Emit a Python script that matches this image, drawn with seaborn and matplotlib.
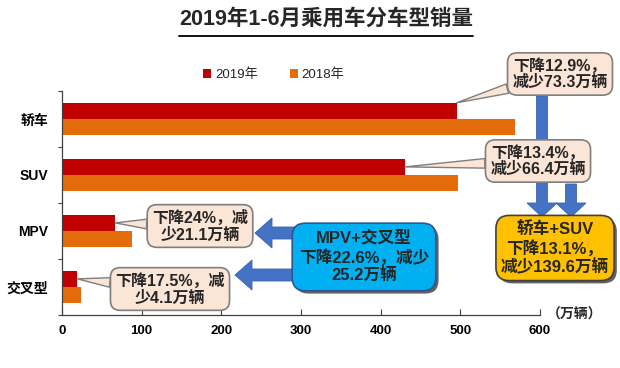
import numpy as np
import pandas as pd
import matplotlib
matplotlib.use('Agg')
import matplotlib.pyplot as plt
import seaborn as sns
from matplotlib.patches import FancyArrow
from matplotlib.lines import Line2D
import matplotlib.patheffects as pe

# ---------------- data ----------------
categories = ['轿车', 'SUV', 'MPV', '交叉型']
years = ['2019年', '2018年']
sales_2019 = [495.6, 430.5, 66.7, 19.4]
sales_2018 = [568.9, 496.9, 87.8, 23.5]
x_ticks = [0, 100, 200, 300, 400, 500, 600]
callout_texts = ['下降12.9%，\n减少73.3万辆',
                 '下降13.4%，\n减少66.4万辆',
                 '下降24%，减\n少21.1万辆',
                 '下降17.5%，减\n少4.1万辆']
summary_mpv = 'MPV+交叉型\n下降22.6%，减少\n25.2万辆'
summary_car = '轿车+SUV\n下降13.1%，\n减少139.6万辆'
title = '2019年1-6月乘用车分车型销量'
unit = '（万辆）'

# ---------------- style ----------------
sns.set_theme(style='white')
plt.rcParams['font.family'] = ['Liberation Sans', 'Noto Sans CJK SC', 'DejaVu Sans']

W, H = 620, 368
fig = plt.figure(figsize=(W / 100, H / 100), dpi=100)
ax = fig.add_axes([62 / W, 1 - 315 / H, (540 - 62) / W, (315 - 91) / H])

df = pd.DataFrame({
    'category': categories * 2,
    'year': [years[0]] * len(categories) + [years[1]] * len(categories),
    'value': sales_2019 + sales_2018,
})
bar_width = 0.58
sns.barplot(data=df, x='value', y='category', hue='year', hue_order=years,
            order=categories, orient='h', width=bar_width, saturation=1,
            linewidth=0, palette={years[0]: '#C00000', years[1]: '#E46C0A'},
            ax=ax)

ax.set_xlim(0, 600)
ax.set_ylim(len(categories) - 0.5, -0.5)
ax.set_xlabel('')
ax.set_ylabel('')
for s in ['top', 'right']:
    ax.spines[s].set_visible(False)
for s in ['left', 'bottom']:
    ax.spines[s].set_color('#404040')
    ax.spines[s].set_linewidth(0.9)
ax.set_xticks(x_ticks)
ax.set_xticklabels([str(t) for t in x_ticks])
ax.tick_params(axis='x', direction='in', length=4, width=0.8, color='#404040',
               pad=7, labelsize=9.5, bottom=True)
ax.tick_params(axis='y', which='major', length=0, pad=10, labelsize=10)
ax.set_yticks(np.arange(-0.5, len(categories), 1), minor=True)
ax.tick_params(axis='y', which='minor', direction='out', length=3, width=0.8,
               color='#404040', left=True)
for lbl in ax.get_xticklabels() + ax.get_yticklabels():
    lbl.set_fontweight('bold')
    lbl.set_color('black')

handles, labels = ax.get_legend_handles_labels()
ax.legend(handles, labels, loc='center', bbox_to_anchor=(274 / W, 1 - 75 / H),
          bbox_transform=fig.transFigure, ncol=2, frameon=False, fontsize=9.5,
          handlelength=0.6, handleheight=0.6, columnspacing=2.4,
          handletextpad=0.3)

ax.text(1.015, 0, unit, transform=ax.transAxes, ha='left', va='center',
        fontsize=10, fontweight='bold')

# ---------------- title with underline ----------------
t = fig.text(326 / W, 1 - 19 / H, title, ha='center', va='center', fontsize=15.5,
             fontweight='bold')
fig.canvas.draw()
bb = t.get_window_extent().transformed(fig.transFigure.inverted())
fig.add_artist(Line2D([bb.x0, bb.x1], [1 - 36 / H, 1 - 36 / H], color='black',
                      lw=1.3, transform=fig.transFigure))

# ---------------- overlay for annotations (pixel units) ----------------
ov = fig.add_axes([0, 0, 1, 1])
ov.set_xlim(0, W)
ov.set_ylim(H, 0)
ov.axis('off')

blue = '#4472C4'
arrow_kw = dict(length_includes_head=True, fc=blue, ec='#3A62AD', lw=0.6,
                zorder=2)
ov.add_patch(FancyArrow(542, 96, 0, 217 - 96, width=11, head_width=30,
                        head_length=14, **arrow_kw))
ov.add_patch(FancyArrow(571, 184, 0, 217 - 184, width=11, head_width=30,
                        head_length=14, **arrow_kw))
ov.add_patch(FancyArrow(300, 233, 255 - 300, 0, width=12, head_width=30,
                        head_length=17, **arrow_kw))
ov.add_patch(FancyArrow(300, 275, 235 - 300, 0, width=12, head_width=30,
                        head_length=17, **arrow_kw))

red_off = -bar_width / 4
callout_pos = [(560, 74), (538, 161), (200, 226), (170, 289)]
callout_targets = [(sales_2019[0], 0 - bar_width / 2),
                   (sales_2019[1], 1 + red_off),
                   (sales_2019[2], 2 + red_off),
                   (sales_2019[3], 3 + red_off)]
for txt, (cx, cy), (vx, vy) in zip(callout_texts, callout_pos, callout_targets):
    ov.annotate(txt, xy=(vx, vy), xycoords=ax.transData, xytext=(cx, cy),
                textcoords='data', ha='center', va='center', fontsize=11.5,
                fontweight='bold', linespacing=1.15, zorder=5,
                bbox=dict(boxstyle='round,pad=0.3,rounding_size=0.6',
                          fc='#FBE5D6', ec='#7F7F7F', lw=1.2),
                arrowprops=dict(arrowstyle='wedge,tail_width=0.6,shrink_factor=0.5',
                                fc='#FBE5D6', ec='#7F7F7F', lw=1.0,
                                shrinkA=0, shrinkB=0))

shadow = [pe.withSimplePatchShadow(offset=(2, -2), shadow_rgbFace='#202020',
                                   alpha=0.7)]
t1 = ov.text(364, 257, summary_mpv, ha='center', va='center', fontsize=12,
             fontweight='bold', linespacing=1.2, zorder=6,
             bbox=dict(boxstyle='round,pad=0.4,rounding_size=0.8',
                       fc='#00B0F0', ec='#2F5597', lw=1.2))
t2 = ov.text(555, 248, summary_car, ha='center', va='center', fontsize=12,
             fontweight='bold', linespacing=1.2, zorder=6,
             bbox=dict(boxstyle='round,pad=0.3,rounding_size=0.8',
                       fc='#FFC000', ec='#404040', lw=1.2))
for tt in (t1, t2):
    tt.get_bbox_patch().set_path_effects(shadow)

fig.savefig('out.png', dpi=100)
